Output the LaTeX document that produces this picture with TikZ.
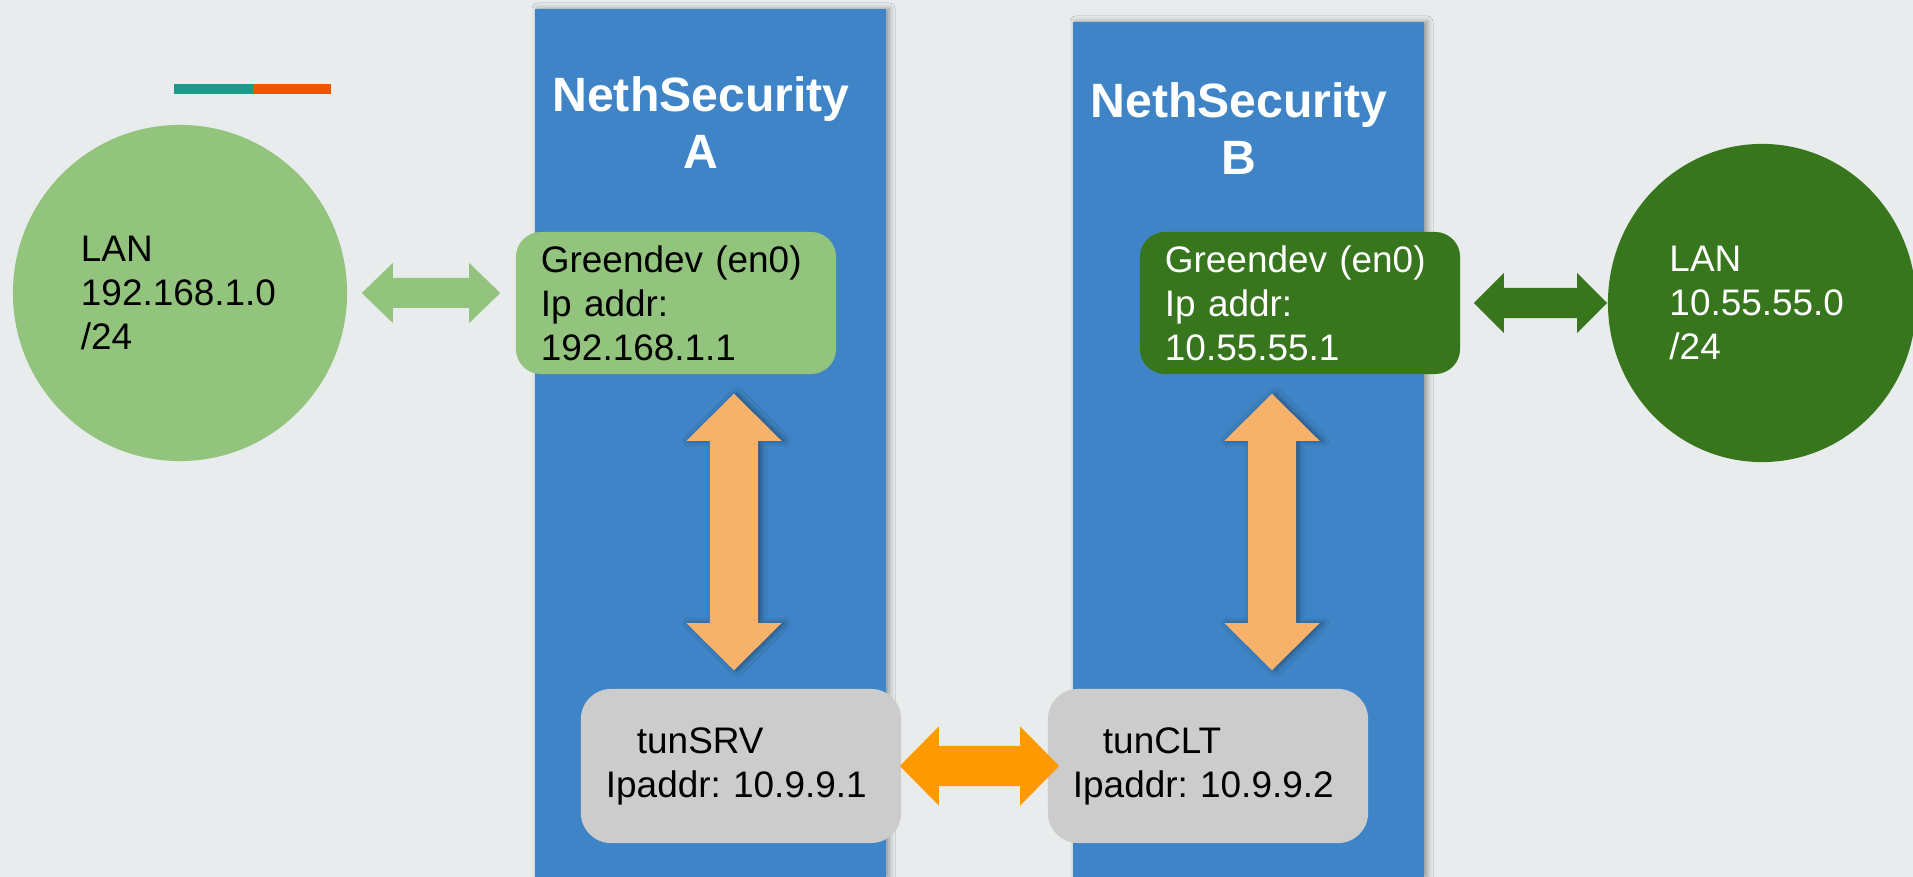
\documentclass[tikz,border=0pt]{standalone}
\usepackage{fontspec}
\setmainfont{Liberation Sans}
\usetikzlibrary{calc,shapes.geometric,shadows.blur}
\definecolor{fundo}{HTML}{E9ECED}
\definecolor{azul}{HTML}{3E84C6}
\definecolor{verdeclaro}{HTML}{93C47D}
\definecolor{verdeescuro}{HTML}{38761D}
\definecolor{laranjaclaro}{HTML}{F6B26B}
\definecolor{laranja}{HTML}{FF9900}
\definecolor{cinza}{HTML}{CCCCCC}
\definecolor{barraverde}{HTML}{1B9A89}
\definecolor{barralaranja}{HTML}{EB5700}
\newcommand{\texto}{\fontsize{10.5}{12.5}\selectfont\frenchspacing}
\newcommand{\fonttitulo}{\fontsize{13.7}{16.2}\selectfont\bfseries}
\newcommand{\setadupla}[6]{%
\coordinate (ponta1) at ($(#1)!#5!(#2)$);
\coordinate (ponta2) at ($(#2)!#5!(#1)$);
\fill[#6] (#1) -- ($(ponta1)!#4!90:(#2)$) -- ($(ponta1)!#3!90:(#2)$) -- ($(ponta2)!#3!-90:(#1)$) -- ($(ponta2)!#4!-90:(#1)$) -- (#2) -- ($(ponta2)!#4!90:(#1)$) -- ($(ponta2)!#3!90:(#1)$) -- ($(ponta1)!#3!-90:(#2)$) -- ($(ponta1)!#4!-90:(#2)$) -- cycle;}
\begin{document}
\begin{tikzpicture}
[x=0.01cm, y=-0.01cm,
sombra/.style={blur shadow={shadow xshift=0.03cm, shadow yshift=0cm, shadow blur radius=0.06cm, shadow opacity=40}},
rede/.style={ellipse, inner sep=0pt, align=left, font=\texto},
caixa/.style={rounded corners=0.25cm, minimum width=3.2cm, minimum height=1.42cm, text width=2.7cm, inner xsep=0.25cm, align=left, font=\texto},
tunel/.style={caixa, fill=cinza, minimum height=1.54cm, rounded corners=0.3cm},
titulo/.style={text=white, align=center, inner sep=0pt, font=\fonttitulo}]
\useasboundingbox (0,0) rectangle (1913,877);
\fill[fundo] (0,0) rectangle (1913,877);
\fill[azul, sombra] (535,9) rectangle (886,877);
\fill[azul, sombra] (1073,22) rectangle (1424,877);
\fill[barraverde] (174,84) rectangle (253,94);
\fill[barralaranja] (253,84) rectangle (331,94);
\node[rede, fill=verdeclaro, minimum width=3.34cm, minimum height=3.36cm, text width=1.98cm] (lanA) at (180,293) {LAN\\192.168.1.0\\/24};
\node[rede, fill=verdeescuro, text=white, minimum width=3.08cm, minimum height=3.18cm, text width=1.85cm] (lanB) at (1762,303) {LAN\\10.55.55.0\\/24};
\node[titulo] (titA) at (701,123) {NethSecurity\\A};
\node[titulo] (titB) at (1239,129) {NethSecurity\\B};
\node[caixa, fill=verdeclaro] (verdeA) at (676,303) {Greendev (en0)\\Ip addr:\\192.168.1.1};
\node[caixa, fill=verdeescuro, text=white] (verdeB) at (1300,303) {Greendev (en0)\\Ip addr:\\10.55.55.1};
\node[tunel] (tunA) at (741,766) {\hspace*{0.31cm}tunSRV\\Ipaddr: 10.9.9.1};
\node[tunel] (tunB) at (1208,766) {\hspace*{0.30cm}tunCLT\\Ipaddr: 10.9.9.2};
\coordinate (ga1) at ($(lanA.east)+(14,0)$);
\coordinate (ga2) at ($(verdeA.west |- lanA.east)+(-15,0)$);
\coordinate (gb1) at ($(verdeB.east)+(13,0)$);
\coordinate (gb2) at (lanB.west);
\coordinate (va1) at ($(verdeA.south)+(58,19)$);
\coordinate (va2) at ($(tunA.north)+(-7,-18)$);
\coordinate (vb1) at ($(verdeB.south)+(-28,19)$);
\coordinate (vb2) at ($(tunB.north)+(64,-18)$);
\coordinate (ta1) at ($(tunA.east)+(-2,0)$);
\coordinate (ta2) at ($(tunB.west)+(12,0)$);
\setadupla{ga1}{ga2}{0.15cm}{0.30cm}{0.31cm}{verdeclaro}
\setadupla{gb1}{gb2}{0.15cm}{0.30cm}{0.30cm}{verdeescuro}
\setadupla{va1}{va2}{0.24cm}{0.475cm}{0.47cm}{laranjaclaro, sombra}
\setadupla{vb1}{vb2}{0.24cm}{0.475cm}{0.47cm}{laranjaclaro, sombra}
\setadupla{ta1}{ta2}{0.20cm}{0.395cm}{0.39cm}{laranja}
\end{tikzpicture}
\end{document}
